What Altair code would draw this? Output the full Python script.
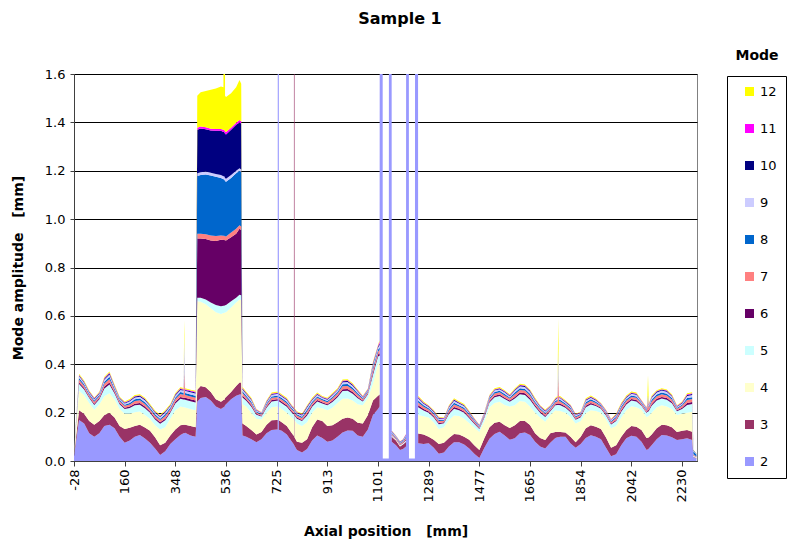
import altair as alt
import pandas as pd

# Axial sampling positions in mm (extra points around the sharp spikes and the wide section edges)
AXIAL = [
    -28.0, -9.2, 9.6, 28.5, 47.3, 66.1, 84.9, 103.7, 122.6, 141.4,
    160.2, 179.0, 197.8, 216.7, 235.5, 254.3, 273.1, 291.9, 310.8, 329.6,
    348.4, 367.2, 378.7, 381.7, 384.7, 404.9, 423.7,
    429.9, 442.5, 461.3, 480.1, 499.0, 517.8, 527.0, 530.0, 533.0, 536.6, 555.4, 574.2, 586.7, 593.1,
    597.9, 611.9, 630.7, 649.5, 668.3, 687.2, 706.0, 724.8, 728.6,
    730.8, 733.0, 743.6, 762.4, 781.3, 788.8, 790.0, 791.2, 800.1, 818.9,
    837.7, 856.5, 875.4, 894.2, 913.0, 931.8, 950.6, 969.5, 988.3, 1007.1,
    1025.9, 1044.7, 1063.6, 1082.4, 1101.2, 1107.0,
    1114.1, 1118.9, 1141.2, 1146.7, 1152.3, 1167.9, 1182.8, 1193.9, 1205.1, 1211.0, 1216.2, 1238.2, 1244.1, 1250.4,
    1270.6, 1289.4, 1308.2, 1327.0, 1345.9, 1364.7, 1383.5, 1402.3, 1421.1, 1440.0,
    1458.8, 1477.6, 1496.4, 1515.2, 1534.1, 1552.9, 1571.7, 1590.5, 1609.3, 1628.2,
    1647.0, 1665.8, 1684.6, 1703.4, 1722.3, 1741.1, 1759.9, 1767.7, 1770.7, 1773.7,
    1778.7, 1797.5, 1816.4, 1835.2, 1854.0, 1872.8, 1891.6, 1910.5, 1929.3, 1948.1,
    1966.9, 1985.7, 2004.6, 2023.4, 2042.2, 2061.0, 2079.8, 2098.7, 2101.0, 2104.0,
    2107.0, 2117.5, 2136.3, 2155.1, 2173.9, 2192.8, 2211.6, 2230.4, 2249.2, 2268.0, 2272.8, 2284.0,
]

# Mode amplitudes in mm, one list per mode
MODE_2 = [
    .020, .17, .155, .115, .10, .115, .145, .15, .135, .10,
    .075, .085, .10, .107, .093, .075, .052, .025, .04, .07,
    .09, .108, .115, .115, .117, .105, .10,
    .245, .26, .265, .25, .225, .215, .222, .222, .23, .235, .255, .27, .275, .275,
    .105, .1, .09, .078, .09, .115, .128, .13, .13,
    20, .129, .125, .11, .08, .068, .065, .062, .045, .035,
    .05, .085, .105, .095, .08, .085, .1, .118, .126, .125,
    .105, .1, .13, .19, .215, .225,
    20, .01, .01, 20, .08, .065, .045, .05, .06, 20, .01, .01, 20, .073,
    .07, .073, .055, .03, .035, .06, .078, .078, .068, .052,
    .03, .012, .055, .092, .112, .121, .105, .088, .094, .115,
    .118, .107, .08, .06, .052, .075, .095, .098, .098, .099,
    .1, .1, .072, .055, .07, .095, .106, .1, .09, .055,
    .02, .028, .065, .094, .104, .1, .08, .045, .048, .048,
    .052, .065, .09, .108, .105, .098, .087, .09, .094, .087, .015, .01,
]
MODE_3 = [
    .005, .04, .04, .05, .05, .05, .045, .05, .045, .045,
    .057, .052, .045, .043, .045, .05, .046, .04, .035, .035,
    .04, .04, .035, .035, .033, .04, .04,
    .05, .05, .04, .035, .03, .03, .03, .03, .03, .03, .03, .04, .05, .05,
    .05, .045, .038, .032, .03, .035, .04, .04, .04,
    .04, .039, .035, .035, .035, .035, 20, .036, .035, .04,
    .04, .055, .067, .07, .065, .063, .06, .057, .054, .05,
    .053, .055, .06, .06, .055, .05,
    0, 0, 0, 0, .02, .02, .015, .018, .02, 0, 0, 0, 0, .041,
    .04, .027, .033, .04, .04, .035, .034, .032, .032, .036,
    .035, .033, .04, .048, .046, .041, .043, .048, .054, .05,
    .047, .042, .035, .035, .035, .04, .025, .022, .022, .021,
    .02, .018, .028, .023, .03, .04, .042, .042, .042, .042,
    .035, .037, .035, .034, .041, .042, .048, .05, .048, .048,
    .046, .045, .045, .042, .043, .042, .033, .035, .034, .034, .003, .002,
]
MODE_4 = [
    .005, .08, .077, .075, .062, .07, .078, .08, .075, .07,
    .063, .058, .057, .055, .052, .05, .05, .065, .065, .07,
    .08, .077, .072, .072, .071, .07, .07,
    .365, .348, .343, .347, .36, .363, .36, .36, .355, .35, .35, .345, .343, .34,
    .08, .08, .072, .065, .052, .05, .054, .055, .055,
    .055, .055, .055, .055, .065, .069, .07, .07, .075, .07,
    .07, .06, .05, .053, .065, .072, .08, .082, .078, .075,
    .077, .075, .07, .07, .13, .135,
    0, 0, 0, 0, .002, .003, .002, .002, .002, 0, 0, 0, 0, .076,
    .075, .08, .072, .062, .065, .075, .076, .076, .075, .069,
    .073, .075, .07, .082, .082, .083, .084, .089, .082, .083,
    .08, .076, .085, .085, .075, .075, .09, .088, .088, .088,
    .087, .082, .082, .077, .065, .063, .062, .065, .068, .075,
    .08, .08, .08, .082, .081, .08, .084, .087, .088, .088,
    .089, .09, .087, .08, .077, .075, .07, .07, .072, .083, .002, .002,
]
MODE_5 = [
    .003, .028, .024, .02, .02, .02, .032, .036, .024, .02,
    .02, .024, .028, .028, .028, .024, .024, .024, .028, .024,
    .028, .032, .032, .032, .032, .032, .032,
    .015, .017, .02, .023, .03, .032, .03, .03, .029, .03, .025, .02, .019, .02,
    .028, .024, .024, .016, .012, .02, .024, .024, .024,
    .024, .024, .024, .024, .02, .02, .02, .02, .02, .02,
    .028, .024, .024, .02, .02, .024, .024, .032, .032, .028,
    .024, .016, .016, .036, .032, .025,
    0, 0, 0, 0, .003, .002, .003, .003, .003, 0, 0, 0, 0, .032,
    .024, .02, .02, .02, .016, .024, .028, .024, .024, .02,
    .016, .012, .016, .02, .024, .024, .024, .02, .028, .028,
    .028, .028, .024, .02, .02, .016, .02, .024, .024, .024,
    .024, .02, .02, .016, .016, .024, .024, .02, .016, .016,
    .016, .02, .024, .024, .024, .024, .016, .016, .02, .02,
    .02, .028, .028, .028, .028, .024, .016, .02, .032, .032, .003, .002,
]
MODE_6 = [
    .001, .007, .006, .005, .005, .005, .008, .009, .006, .005,
    .005, .006, .007, .007, .007, .006, .006, .006, .007, .006,
    .007, .008, .008, .008, .008, .008, .008,
    .245, .245, .25, .257, .265, .275, .272, .272, .269, .267, .265, .265, .273, .27,
    .007, .006, .006, .004, .003, .005, .006, .006, .006,
    .006, .006, .006, .006, .005, .005, .005, .005, .005, .005,
    .007, .006, .006, .005, .005, .006, .006, .008, .008, .007,
    .006, .004, .004, .009, .008, .01,
    0, 0, 0, 0, .003, .002, .002, .002, .004, 0, 0, 0, 0, .008,
    .006, .005, .005, .005, .004, .006, .007, .006, .006, .005,
    .004, .003, .004, .005, .006, .006, .006, .005, .007, .007,
    .007, .007, .006, .005, .005, .004, .005, .006, .006, .006,
    .006, .005, .005, .004, .004, .006, .006, .005, .004, .004,
    .004, .005, .006, .006, .006, .006, .004, .004, .005, .005,
    .005, .007, .007, .007, .007, .006, .004, .005, .008, .008, .002, .001,
]
MODE_7 = [
    .001, .011, .009, .008, .008, .008, .012, .014, .009, .008,
    .008, .009, .011, .011, .011, .009, .009, .009, .011, .009,
    .011, .012, .012, .112, .012, .012, .012,
    .02, .02, .019, .02, .02, .017, .017, .017, .016, .016, .02, .02, .015, .015,
    .011, .009, .009, .006, .005, .008, .009, .009, .009,
    .009, .009, .009, .009, .008, .008, .008, .008, .008, .008,
    .011, .009, .009, .008, .008, .009, .009, .012, .012, .011,
    .009, .006, .006, .014, .012, .015,
    0, 0, 0, 0, .005, .004, .005, .005, .007, 0, 0, 0, 0, .012,
    .009, .008, .008, .008, .006, .009, .011, .009, .009, .008,
    .006, .005, .006, .008, .009, .009, .009, .008, .011, .011,
    .011, .011, .009, .008, .008, .006, .008, .009, .109, .009,
    .009, .008, .008, .006, .006, .009, .009, .008, .006, .006,
    .006, .008, .009, .009, .009, .009, .006, .006, .008, .048,
    .008, .011, .011, .011, .011, .009, .006, .008, .012, .012, .003, .002,
]
MODE_8 = [
    .001, .007, .006, .005, .005, .005, .008, .009, .006, .005,
    .005, .006, .007, .007, .007, .006, .006, .006, .007, .006,
    .007, .008, .008, .008, .008, .008, .008,
    .238, .242, .248, .248, .245, .238, .234, .234, .229, .227, .225, .23, .225, .225,
    .007, .006, .006, .004, .003, .005, .006, .006, .006,
    .006, .006, .006, .006, .005, .005, .005, .005, .005, .005,
    .007, .006, .006, .005, .005, .006, .006, .008, .008, .007,
    .006, .004, .004, .009, .008, .01,
    0, 0, 0, 0, .004, .003, .003, .003, .005, 0, 0, 0, 0, .008,
    .006, .005, .005, .005, .004, .006, .007, .006, .006, .005,
    .004, .003, .004, .005, .006, .006, .006, .005, .007, .007,
    .007, .007, .006, .005, .005, .004, .005, .006, .006, .006,
    .006, .005, .005, .004, .004, .006, .006, .005, .004, .004,
    .004, .005, .006, .006, .006, .006, .004, .004, .005, .005,
    .005, .007, .007, .007, .007, .006, .004, .005, .008, .008, .012, .008,
]
MODE_9 = [
    0, .008, .007, .005, .005, .005, .009, .010, .007, .005,
    .005, .007, .008, .008, .008, .007, .007, .007, .008, .007,
    .008, .009, .009, .129, .009, .009, .009,
    .012, .012, .012, .012, .012, .012, .012, .012, .012, .012, .012, .01, .01, .01,
    .008, .007, .007, .004, .003, .005, .007, .007, .007,
    .007, .007, .007, .007, .005, .005, .005, .005, .005, .005,
    .008, .007, .007, .005, .005, .007, .007, .009, .009, .008,
    .007, .004, .004, .010, .009, .01,
    0, 0, 0, 0, .004, .003, .003, .003, .005, 0, 0, 0, 0, .009,
    .007, .005, .005, .005, .004, .007, .008, .007, .007, .005,
    .004, .003, .004, .005, .007, .007, .007, .005, .008, .008,
    .008, .008, .007, .005, .005, .004, .005, .007, .107, .007,
    .007, .005, .005, .004, .004, .007, .007, .005, .004, .004,
    .004, .005, .007, .007, .007, .007, .004, .004, .005, .005,
    .005, .008, .008, .008, .008, .007, .004, .005, .009, .009, .003, .002,
]
MODE_10 = [
    0, .004, .003, .003, .003, .003, .004, .005, .003, .003,
    .003, .003, .004, .004, .004, .003, .003, .003, .004, .003,
    .004, .004, .004, .004, .004, .004, .004,
    .18, .181, .175, .174, .178, .183, .183, .183, .183, .183, .188, .19, .19, .19,
    .004, .003, .003, .002, .002, .003, .003, .003, .003,
    .003, .003, .003, .003, .003, .003, .003, .003, .003, .003,
    .004, .003, .003, .003, .003, .003, .003, .004, .004, .004,
    .003, .002, .002, .005, .004, .006,
    0, 0, 0, 0, .002, .001, .002, .002, .003, 0, 0, 0, 0, .004,
    .003, .003, .003, .003, .002, .003, .004, .003, .003, .003,
    .002, .002, .002, .003, .003, .003, .003, .003, .004, .004,
    .004, .004, .003, .003, .003, .002, .003, .003, .003, .003,
    .003, .003, .003, .002, .002, .003, .003, .003, .002, .002,
    .002, .003, .003, .003, .003, .003, .002, .002, .003, .003,
    .003, .004, .004, .004, .004, .003, .002, .003, .004, .004, .002, .001,
]
MODE_11 = [
    0, .002, .002, .002, .002, .002, .003, .003, .002, .002,
    .002, .002, .002, .002, .002, .002, .002, .002, .002, .002,
    .002, .003, .003, .003, .003, .003, .003,
    .008, .008, .008, .008, .008, .008, .009, .009, .009, .01, .008, .008, .01, .01,
    .002, .002, .002, .002, .001, .002, .002, .002, .002,
    .002, .002, .002, .002, .002, .002, .002, .002, .002, .002,
    .002, .002, .002, .002, .002, .002, .002, .003, .003, .002,
    .002, .002, .002, .003, .003, .008,
    0, 0, 0, 0, .001, .001, .001, .001, .002, 0, 0, 0, 0, .003,
    .002, .002, .002, .002, .002, .002, .002, .002, .002, .002,
    .002, .001, .002, .002, .002, .002, .002, .002, .002, .002,
    .002, .002, .002, .002, .002, .002, .002, .002, .002, .002,
    .002, .002, .002, .002, .002, .002, .002, .002, .002, .002,
    .002, .002, .002, .002, .002, .002, .002, .002, .002, .002,
    .002, .002, .002, .002, .002, .002, .002, .002, .003, .003, 0, 0,
]
MODE_12 = [
    0, .004, .004, .003, .003, .003, .004, .004, .004, .003,
    .003, .004, .004, .004, .004, .004, .004, .004, .004, .004,
    .004, .004, .004, .064, .004, .004, .004,
    .132, .142, .15, .161, .167, .175, .176, 20, .148, .145, .142, .147, .165, .155,
    .004, .004, .004, .002, .001, .003, .004, .004, .004,
    .004, .004, .004, .004, .003, .003, .003, .003, .003, .003,
    .004, .004, .004, .003, .003, .004, .004, .004, .004, .004,
    .004, .002, .002, .004, .004, .005,
    0, 0, 0, 0, .001, .001, .001, .001, .001, 0, 0, 0, 0, .004,
    .004, .003, .003, .003, .002, .004, .004, .004, .004, .003,
    .002, .001, .002, .003, .004, .004, .004, .003, .004, .004,
    .004, .004, .004, .003, .003, .002, .003, .004, .124, .004,
    .004, .003, .003, .002, .002, .004, .004, .003, .002, .002,
    .002, .003, .004, .004, .004, .004, .002, .002, .003, .083,
    .003, .004, .004, .004, .004, .004, .002, .003, .004, .004, .002, .001,
]

MODE_ORDER = [12, 11, 10, 9, 8, 7, 6, 5, 4, 3, 2]
MODE_COLORS = ["#FFFF00", "#FF00FF", "#000080", "#CCCCFF", "#0066CC", "#FF8080",
               "#660066", "#CCFFFF", "#FFFFCC", "#993366", "#9999FF"]
X_TICKS = [-28, 160, 348, 536, 725, 913, 1101, 1289, 1477, 1665, 1854, 2042, 2230]
Y_TICKS = [0.0, 0.2, 0.4, 0.6, 0.8, 1.0, 1.2, 1.4, 1.6]

FONT = "DejaVu Sans"

series = {2: MODE_2, 3: MODE_3, 4: MODE_4, 5: MODE_5, 6: MODE_6, 7: MODE_7,
          8: MODE_8, 9: MODE_9, 10: MODE_10, 11: MODE_11, 12: MODE_12}
records = []
for mode, values in series.items():
    assert len(values) == len(AXIAL), (mode, len(values), len(AXIAL))
    for pos, amp in zip(AXIAL, values):
        records.append({"axial": pos, "mode": mode, "amplitude": amp})
data = pd.DataFrame(records)

areas = alt.Chart(data).mark_area(clip=True, interpolate="linear", opacity=1).encode(
    x=alt.X(
        "axial:Q",
        scale=alt.Scale(domain=[-28, 2286], nice=False, zero=False),
        axis=alt.Axis(
            values=X_TICKS, labelExpr="'' + datum.value", labelAngle=270,
            labelFontSize=13, labelPadding=3, tickSize=5, grid=False,
            labelFlush=False, labelOverlap=False,
            title="Axial position\u00a0\u00a0\u00a0[mm]",
            titleFontSize=14, titleFontWeight="bold", titleY=70,
            titleBaseline="middle",
        ),
    ),
    y=alt.Y(
        "amplitude:Q",
        stack="zero",
        scale=alt.Scale(domain=[0, 1.6], nice=False),
        axis=alt.Axis(
            values=Y_TICKS, format=".1f", labelFontSize=13, labelPadding=5,
            tickSize=4, grid=True, gridColor="#000000", gridOpacity=1,
            gridWidth=1, title="Mode amplitude\u00a0\u00a0\u00a0[mm]",
            titleFontSize=14, titleFontWeight="bold", titleX=-56,
            titleBaseline="middle",
        ),
    ),
    color=alt.Color(
        "mode:O",
        scale=alt.Scale(domain=MODE_ORDER, range=MODE_COLORS),
        legend=alt.Legend(
            title=None, orient="none", legendX=653, legendY=2,
            direction="vertical", symbolType="square", symbolSize=81,
            symbolStrokeWidth=0, symbolOpacity=1, symbolOffset=7,
            labelOffset=4, labelFontSize=13, labelFont=FONT,
            labelColor="#000000", rowPadding=23, padding=9,
            strokeColor="#000000", fillColor="#FFFFFF",
        ),
    ),
    order=alt.Order("mode:Q", sort="ascending"),
)

legend_heading = alt.Chart(pd.DataFrame({"label": ["Mode"]})).mark_text(
    font=FONT, fontSize=14, fontWeight="bold", align="center",
    baseline="middle", color="#000000",
).encode(x=alt.value(683), y=alt.value(-18), text="label:N")

chart_title = alt.Chart(pd.DataFrame({"label": ["Sample 1"]})).mark_text(
    font=FONT, fontSize=16, fontWeight="bold", align="center",
    baseline="middle", color="#000000",
).encode(x=alt.value(326), y=alt.value(-55), text="label:N")

chart = alt.layer(areas, legend_heading, chart_title).properties(
    width=623,
    height=387,
    padding={"left": 74, "top": 74, "right": 90, "bottom": 89},
    autosize=alt.AutoSizeParams(type="none"),
    background="#FFFFFF",
).configure_view(
    stroke="#808080", strokeWidth=1,
).configure_axis(
    labelFont=FONT, titleFont=FONT, labelColor="#000000", titleColor="#000000",
    domainColor="#404040", tickColor="#404040",
)

chart.save("out.html", embed_options={"renderer": "svg", "actions": False})
